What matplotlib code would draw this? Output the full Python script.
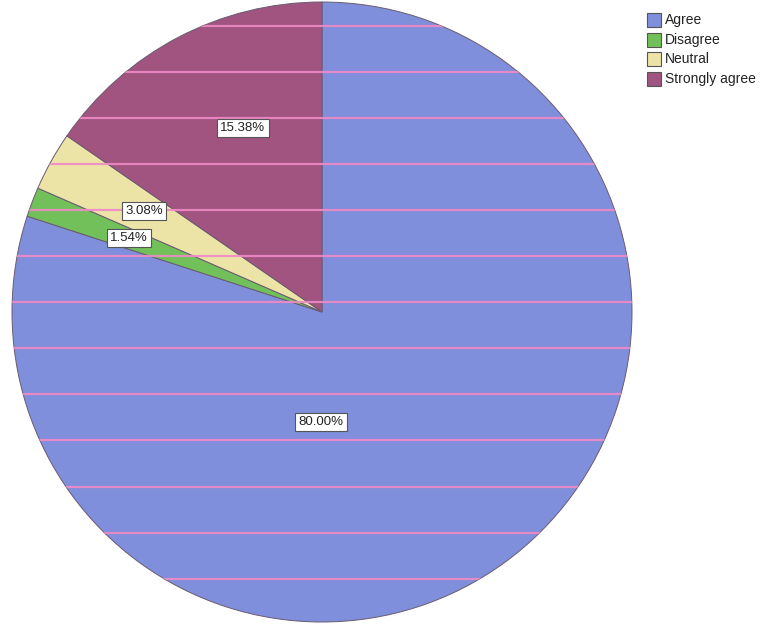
import matplotlib
matplotlib.use("Agg")
import matplotlib.pyplot as plt
from matplotlib.patches import Circle, Rectangle

categories = ["Agree", "Disagree", "Neutral", "Strongly agree"]
values = [80.00, 1.54, 3.08, 15.38]
labels = ["80.00%", "1.54%", "3.08%", "15.38%"]
colors = ["#7f8fdb", "#72c05a", "#ece3a6", "#a0547f"]

W, H = 771, 629
fig = plt.figure(figsize=(W / 100, H / 100), dpi=100)
fig.patch.set_facecolor("white")
ax = fig.add_axes([0, 0, 1, 1])

cx, cy, R = 322, H - 312, 310
wedges, _ = ax.pie(values, colors=colors, startangle=90, counterclock=False,
                   center=(cx, cy), radius=R,
                   wedgeprops=dict(edgecolor="#6a5a70", linewidth=0.7))

# pink horizontal pattern lines clipped to the pie
clip = Circle((cx, cy), R, transform=ax.transData)
y = 25.5
while y < 622:
    ln, = ax.plot([cx - R, cx + R], [H - y, H - y], color="#f08ac8",
                  linewidth=1.6, alpha=0.9, zorder=3)
    ln.set_clip_path(clip)
    y += 46.1

# percentage labels
label_pos = [(321, 422), (129, 238), (144, 211), (243, 128)]
for (lx, ly), txt in zip(label_pos, labels):
    ax.text(lx, H - ly, txt, fontsize=9.5, family="Liberation Sans",
            ha="center", va="center", color="#222222", zorder=5,
            bbox=dict(boxstyle="square,pad=0.25", facecolor="white",
                      edgecolor="#555555", linewidth=0.8))

# legend
lx0, ly0, step = 647, 20, 19.7
for i, (cat, col) in enumerate(zip(categories, colors)):
    yy = ly0 + i * step
    ax.add_patch(Rectangle((lx0, H - yy - 7), 14, 14, facecolor=col,
                           edgecolor="#555555", linewidth=0.8, zorder=5))
    ax.text(lx0 + 18, H - yy, cat, fontsize=10, family="Liberation Sans",
            ha="left", va="center", color="#222222", zorder=5)

ax.set_xlim(0, W)
ax.set_ylim(0, H)
ax.set_aspect("equal")
ax.axis("off")
fig.savefig("out.png", dpi=100, facecolor="white")
